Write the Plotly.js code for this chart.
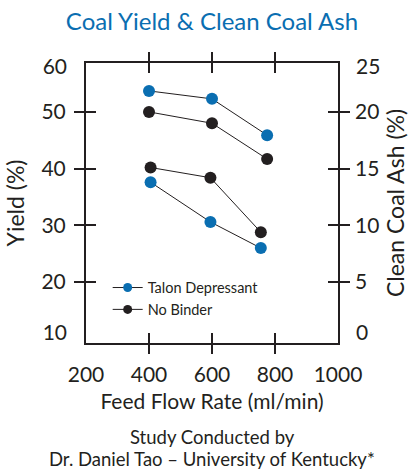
<!DOCTYPE html>
<html>
<head>
<meta charset="utf-8">
<script src="https://cdn.plot.ly/plotly-3.0.1.min.js"></script>
<style>html,body{margin:0;padding:0;background:#fff;}#chart{width:412px;height:470px;}</style>
</head>
<body>
<div id="chart"></div>
<script>
// Data
var flowYield = [400, 600, 775];
var flowAsh = [405, 595, 755];
var talonYield = [53.7, 52.3, 45.9];
var noBinderYield = [50.0, 48.0, 41.7];
var talonAsh = [13.8, 10.3, 8.0];
var noBinderAsh = [15.1, 14.2, 9.4];
var xTickLabels = [200, 400, 600, 800, 1000];
var xTickMarks = [400, 600, 800];
var yieldTicks = [20, 30, 40, 50];
var yieldEndTicks = [10, 60];
var ashTicks = [5, 10, 15, 20];
var ashEndTicks = [0, 25];

var BLUE = '#0a6eb1';
var DARK = '#231f20';
var FONT = 'Lato, "Open Sans", sans-serif';

var yRange = [9.27, 58.62];
var ashRange = [(yRange[0] - 10) / 2, (yRange[1] - 10) / 2];
var yEndRange = [8.0, 60.75];
var ashEndRange = [(yEndRange[0] - 10) / 2, (yEndRange[1] - 10) / 2];

function series(x, y, color, yaxis) {
  return {x: x, y: y, xaxis: 'x', yaxis: yaxis, type: 'scatter', mode: 'lines+markers',
    line: {color: DARK, width: 1}, marker: {color: color, size: 12},
    showlegend: false, hoverinfo: 'skip'};
}
function dummy(xa, ya) {
  return {x: [null], y: [null], xaxis: xa, yaxis: ya, type: 'scatter', mode: 'markers',
    showlegend: false, hoverinfo: 'skip'};
}

var data = [
  series(flowYield, talonYield, BLUE, 'y'),
  series(flowYield, noBinderYield, DARK, 'y'),
  series(flowAsh, talonAsh, BLUE, 'y2'),
  series(flowAsh, noBinderAsh, DARK, 'y2'),
  {x: [null], y: [null], type: 'scatter', mode: 'lines+markers', name: 'Talon Depressant',
    line: {color: DARK, width: 1}, marker: {color: BLUE, size: 9}, hoverinfo: 'skip'},
  {x: [null], y: [null], type: 'scatter', mode: 'lines+markers', name: 'No Binder',
    line: {color: DARK, width: 1}, marker: {color: DARK, size: 9}, hoverinfo: 'skip'},
  dummy('x2', 'y3'),
  dummy('x3', 'y4'),
  dummy('x', 'y5')
];

var tickFont = {family: FONT, size: 21, color: DARK};

var layout = {
  width: 412, height: 470,
  margin: {l: 86, r: 74, t: 63, b: 127},
  paper_bgcolor: '#fff', plot_bgcolor: '#fff',
  font: {family: FONT, color: DARK},
  title: {text: 'Coal Yield &amp; Clean Coal Ash', font: {family: FONT, size: 24, color: BLUE},
    x: 0.5, xref: 'paper', xanchor: 'center', y: 0.953, yref: 'container', yanchor: 'middle'},
  showlegend: true,
  legend: {x: 0.086, y: 0.255, xanchor: 'left', yanchor: 'top', bgcolor: 'rgba(0,0,0,0)',
    font: {family: FONT, size: 14.5, color: DARK}, tracegroupgap: 0, itemwidth: 30},
  xaxis: {range: [200, 1000], tickmode: 'array', tickvals: xTickLabels, ticks: '',
    showgrid: false, zeroline: false, showline: true, mirror: true, linecolor: DARK, linewidth: 2,
    tickfont: tickFont, ticklabelstandoff: 12,
    title: {text: 'Feed Flow Rate (ml/min)', font: {family: FONT, size: 21, color: DARK}, standoff: 9}},
  xaxis2: {overlaying: 'x', anchor: 'y', range: [200, 1000], tickmode: 'array', tickvals: xTickMarks,
    ticks: 'outside', ticklen: 10, tickwidth: 2, tickcolor: DARK, mirror: 'allticks',
    showticklabels: false, showgrid: false, zeroline: false, showline: false},
  xaxis3: {overlaying: 'x', anchor: 'y', range: [200, 1000], tickmode: 'array', tickvals: xTickMarks,
    ticks: 'inside', ticklen: 10, tickwidth: 2, tickcolor: DARK, mirror: 'allticks',
    showticklabels: false, showgrid: false, zeroline: false, showline: false},
  yaxis: {range: yRange, tickmode: 'array', tickvals: yieldTicks, ticks: 'outside', ticklen: 10,
    tickwidth: 2, tickcolor: DARK, mirror: 'allticks', showline: true, linecolor: DARK, linewidth: 2,
    showgrid: false, zeroline: false, tickfont: tickFont, ticklabelstandoff: 4,
    title: {text: 'Yield (%)', font: {family: FONT, size: 23, color: DARK}, standoff: 10}},
  yaxis2: {overlaying: 'y', side: 'right', anchor: 'x', range: ashRange, tickmode: 'array',
    tickvals: ashTicks, ticks: '', showgrid: false, zeroline: false, showline: false,
    tickfont: tickFont, ticklabelstandoff: 16,
    title: {text: 'Clean Coal Ash (%)', font: {family: FONT, size: 23, color: DARK}, standoff: 9}},
  yaxis3: {overlaying: 'y', anchor: 'x2', range: yRange, tickmode: 'array', tickvals: yieldTicks,
    ticks: 'inside', ticklen: 10, tickwidth: 2, tickcolor: DARK, mirror: 'allticks',
    showticklabels: false, showgrid: false, zeroline: false, showline: false},
  yaxis4: {overlaying: 'y', anchor: 'x3', range: yEndRange, tickmode: 'array', tickvals: yieldEndTicks,
    ticks: '', showgrid: false, zeroline: false, showline: false, tickfont: tickFont,
    ticklabelstandoff: 18},
  yaxis5: {overlaying: 'y', side: 'right', anchor: 'x', range: ashEndRange, tickmode: 'array',
    tickvals: ashEndTicks, ticks: '', showgrid: false, zeroline: false, showline: false,
    tickfont: tickFont, ticklabelstandoff: 17},
  annotations: [
    {text: 'Yield', x: 120, y: 47.3, xref: 'x', yref: 'y', showarrow: false,
      font: {family: FONT, size: 15, color: DARK}},
    {text: 'Ash', x: 128, y: 34.3, xref: 'x', yref: 'y', showarrow: false,
      font: {family: FONT, size: 15, color: DARK}},
    {text: 'Study Conducted by', x: 0.5, y: -0.336, xref: 'paper', yref: 'paper', showarrow: false,
      xanchor: 'center', yanchor: 'middle', font: {family: FONT, size: 18.5, color: DARK}},
    {text: 'Dr. Daniel Tao \u2013 University of Kentucky*', x: 0.5, y: -0.414, xref: 'paper', yref: 'paper',
      showarrow: false, xanchor: 'center', yanchor: 'middle', font: {family: FONT, size: 18.5, color: DARK}}
  ]
};

Plotly.newPlot('chart', data, layout, {displayModeBar: false, staticPlot: true});
</script>
</body>
</html>
